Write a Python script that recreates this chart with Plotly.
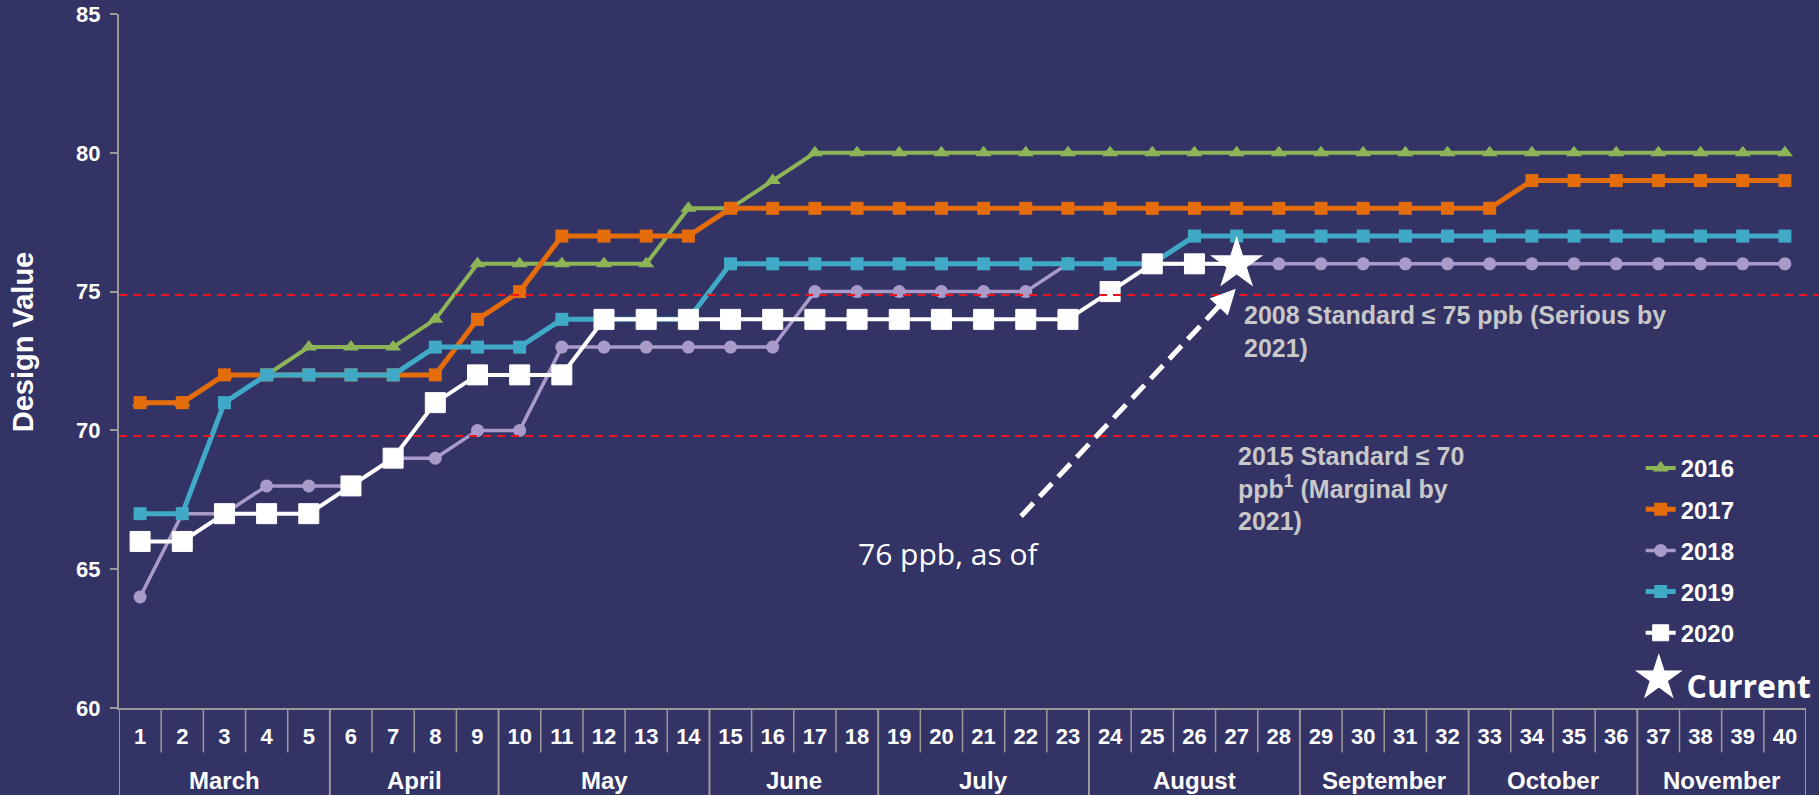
import plotly.graph_objects as go

# ---- data ----
months = ["March", "April", "May", "June", "July", "August", "September", "October", "November"]
weeks_in_month = [5, 4, 5, 4, 5, 5, 4, 4, 4]
weeks = [str(w) for w in range(1, 41)]

y2016 = [71, 71, 72, 72, 73, 73, 73, 74, 76, 76, 76, 76, 76, 78, 78, 79, 80, 80, 80, 80,
         80, 80, 80, 80, 80, 80, 80, 80, 80, 80, 80, 80, 80, 80, 80, 80, 80, 80, 80, 80]
y2017 = [71, 71, 72, 72, 72, 72, 72, 72, 74, 75, 77, 77, 77, 77, 78, 78, 78, 78, 78, 78,
         78, 78, 78, 78, 78, 78, 78, 78, 78, 78, 78, 78, 78, 79, 79, 79, 79, 79, 79, 79]
y2018 = [64, 67, 67, 68, 68, 68, 69, 69, 70, 70, 73, 73, 73, 73, 73, 73, 75, 75, 75, 75,
         75, 75, 76, 76, 76, 76, 76, 76, 76, 76, 76, 76, 76, 76, 76, 76, 76, 76, 76, 76]
y2019 = [67, 67, 71, 72, 72, 72, 72, 73, 73, 73, 74, 74, 74, 74, 76, 76, 76, 76, 76, 76,
         76, 76, 76, 76, 76, 77, 77, 77, 77, 77, 77, 77, 77, 77, 77, 77, 77, 77, 77, 77]
y2020 = [66, 66, 67, 67, 67, 68, 69, 71, 72, 72, 72, 74, 74, 74, 74, 74, 74, 74, 74, 74,
         74, 74, 74, 75, 76, 76, 76]
current_week = "27"
current_value = 76

std_2008 = 74.88
std_2015 = 69.8

BG = "#333366"
GRID = "#9a9a9a"
FONT = "Liberation Sans, Arial, sans-serif"

series = [
    ("2016", y2016, "#8db456", "triangle-up", 14, 4),
    ("2017", y2017, "#e46c0a", "square", 13, 5),
    ("2018", y2018, "#a99bc9", "circle", 13, 3.5),
    ("2019", y2019, "#40aac6", "square", 13, 5),
]

fig = go.Figure()
for name, ys, color, sym, size, lw in series:
    fig.add_trace(go.Scatter(x=weeks[:len(ys)], y=ys, name=name, legendgroup=name,
                             mode="lines+markers", line=dict(color=color, width=lw),
                             marker=dict(symbol=sym, size=size, color=color, opacity=1)))

n20 = len(y2020)
fig.add_trace(go.Scatter(x=weeks[:n20], y=y2020, name="2020", legendgroup="2020",
                         mode="lines+markers", line=dict(color="white", width=4),
                         marker=dict(symbol="square", color="white", opacity=1,
                                     size=[20] * (n20 - 1) + [0])))

fig.add_trace(go.Scatter(x=[current_week], y=[current_value], name="Current",
                         mode="markers", showlegend=False,
                         marker=dict(symbol="star", size=40, color="white")))

# month groups: dividers and labels under the week numbers
shapes = []
annotations = []
start = 0
bounds = {0}
for m, n in zip(months, weeks_in_month):
    annotations.append(dict(text=m, xref="x", yref="paper", x=start + (n - 1) / 2, y=-0.104,
                            yanchor="middle", showarrow=False,
                            font=dict(family=FONT, size=24, color="white", weight="bold")))
    start += n
    bounds.add(start)
for i in range(len(weeks) + 1):
    deep = i in bounds
    shapes.append(dict(type="line", xref="x", yref="paper", x0=i - 0.5, x1=i - 0.5,
                       y0=0, y1=-0.13 if deep else -0.064,
                       line=dict(color=GRID, width=2 if deep else 1.5)))

for yv in (std_2008, std_2015):
    shapes.append(dict(type="line", xref="paper", yref="y", x0=0, x1=1.013, y0=yv, y1=yv,
                       line=dict(color="#f0141e", width=2, dash="8px,6px")))
shapes.append(dict(type="line", xref="x", yref="y", x0=20.89, y0=66.91, x1=25.75, y1=74.75,
                   line=dict(color="white", width=5, dash="18px,9px")))

annotations += [
    dict(text="DESIGN VALUES", xref="paper", yref="paper", x=-0.0635, y=1.0, xanchor="left",
         yanchor="bottom", yshift=4, showarrow=False,
         font=dict(family=FONT, size=55, color="#d2cca8", weight="bold")),
    dict(text="Design Value", xref="paper", yref="paper", x=-0.0569, y=0.527, xanchor="center",
         yanchor="middle", textangle=-90, showarrow=False,
         font=dict(family=FONT, size=29, color="white", weight="bold")),
    dict(text="2008 Standard ≤ 75 ppb (Serious by<br>2021)", xref="x", yref="y",
         x=26.12, y=74.73, xanchor="left", yanchor="top", align="left", showarrow=False,
         font=dict(family=FONT, size=25, color="#c8c8c8", weight="bold")),
    dict(text="2015 Standard ≤ 70<br>ppb<sup>1</sup> (Marginal by<br>2021)", xref="x", yref="y",
         x=25.98, y=69.65, xanchor="left", yanchor="top", align="left", showarrow=False,
         font=dict(family=FONT, size=25, color="#c8c8c8", weight="bold")),
    dict(text="76 ppb, as of", xref="x", yref="y", x=16.97, y=65.58, xanchor="left",
         yanchor="middle", showarrow=False,
         font=dict(family="Open Sans", size=30, color="white")),
    dict(text="", xref="x", yref="y", x=25.98, y=75.1, ax=-15, ay=16, showarrow=True,
         arrowhead=2, arrowsize=1, arrowwidth=5, arrowcolor="white"),
    dict(text="<span style='font-family:DejaVu Sans;font-size:62px'>★</span>Current",
         xref="paper", yref="paper", x=0.895, y=0.045, xanchor="left", yanchor="middle",
         showarrow=False, font=dict(family="Open Sans", size=32, color="white", weight="bold")),
]

fig.update_layout(
    width=1819, height=795,
    margin=dict(l=119, r=13, t=14, b=87),
    paper_bgcolor=BG, plot_bgcolor=BG,
    font=dict(family=FONT, color="white"),
    shapes=shapes, annotations=annotations,
    showlegend=True,
    legend=dict(x=0.902, y=0.3777, xanchor="left", yanchor="top", bgcolor="rgba(0,0,0,0)",
                tracegroupgap=7, font=dict(family=FONT, size=24, color="white", weight="bold")),
    xaxis=dict(type="category", categoryorder="array", categoryarray=weeks,
               range=[-0.5, 39.5], automargin=False, showgrid=False, showline=True,
               linecolor=GRID, linewidth=2, ticks="", ticklabelstandoff=8,
               tickfont=dict(family=FONT, size=22, color="white", weight="bold")),
    yaxis=dict(range=[60, 85], dtick=5, automargin=False, showgrid=False, zeroline=False,
               showline=True, linecolor=GRID, linewidth=2, ticks="outside", ticklen=7,
               tickcolor=GRID, tickwidth=2, ticklabelstandoff=5,
               tickfont=dict(family=FONT, size=22, color="white", weight="bold")),
)

fig.write_html("out.html", config={"displayModeBar": False},
               post_script="document.body.style.margin='0px';")
